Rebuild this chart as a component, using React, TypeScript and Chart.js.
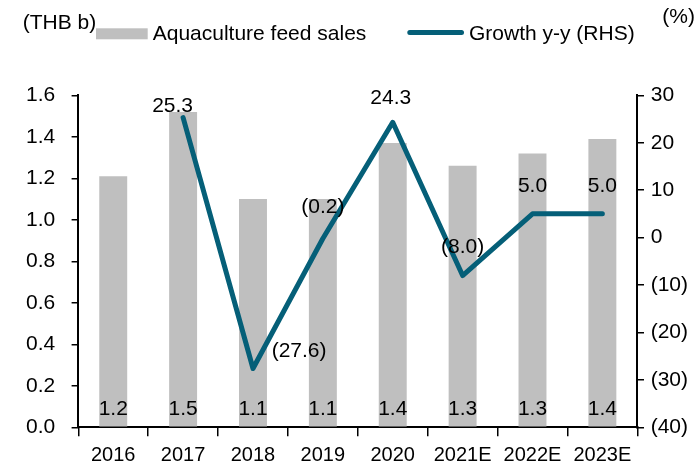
import { useEffect, useRef } from 'react';
import { Chart, registerables } from 'chart.js';

Chart.register(...registerables);

const categories = ['2016', '2017', '2018', '2019', '2020', '2021E', '2022E', '2023E'];
const feedSales = [1.21, 1.52, 1.1, 1.1, 1.37, 1.26, 1.32, 1.39];
const growth: (number | null)[] = [null, 25.3, -27.6, -0.2, 24.3, -8.0, 5.0, 5.0];
const leftAxis = { min: 0, max: 1.6, step: 0.2 };
const rightAxis = { min: -40, max: 30, step: 10 };
const seriesNames = ['Aquaculture feed sales', 'Growth y-y (RHS)'];
const leftUnit = '(THB b)';
const rightUnit = '(%)';

const FONT = '"Liberation Sans", Arial, sans-serif';
const BAR_COLOR = '#BFBFBF';
const LINE_COLOR = '#055F78';

// label placement relative to each growth point (style only)
const growthLabelStyle: ({ dx: number; dy: number; align: CanvasTextAlign } | null)[] = [
  null,
  { dx: -10.5, dy: -6, align: 'center' },
  { dx: 18.7, dy: -11, align: 'left' },
  { dx: 0, dy: -26, align: 'center' },
  { dx: -2, dy: -18, align: 'center' },
  { dx: 0, dy: -23, align: 'center' },
  { dx: 0, dy: -22, align: 'center' },
  { dx: 0, dy: -22, align: 'center' },
];

const fmtGrowth = (v: number) => (v < 0 ? `(${Math.abs(v).toFixed(1)})` : v.toFixed(1));

const labelPlugin = {
  id: 'customLabels',
  afterDatasetsDraw(chart: any) {
    const ctx = chart.ctx as CanvasRenderingContext2D;
    ctx.save();
    ctx.fillStyle = '#000';
    ctx.font = `21px ${FONT}`;
    ctx.textBaseline = 'alphabetic';
    const y0 = chart.scales.y.getPixelForValue(0);
    chart.getDatasetMeta(0).data.forEach((el: any, i: number) => {
      ctx.textAlign = 'center';
      ctx.fillText(feedSales[i].toFixed(1), el.x, y0 - 12.3);
    });
    chart.getDatasetMeta(1).data.forEach((el: any, i: number) => {
      const v = growth[i];
      const st = growthLabelStyle[i];
      if (v == null || !st) return;
      ctx.textAlign = st.align;
      ctx.fillText(fmtGrowth(v), el.x + st.dx, el.y + st.dy);
    });
    ctx.restore();
  },
  afterDraw(chart: any) {
    const ctx = chart.ctx as CanvasRenderingContext2D;
    ctx.save();
    ctx.fillStyle = '#000';
    ctx.font = `21px ${FONT}`;
    ctx.textBaseline = 'alphabetic';
    ctx.textAlign = 'left';
    ctx.fillText(leftUnit, 22.7, 29);
    ctx.fillText(rightUnit, 662.3, 22.5);
    // legend
    ctx.fillStyle = BAR_COLOR;
    ctx.fillRect(96, 28.3, 51.7, 11);
    ctx.fillStyle = '#000';
    ctx.fillText(seriesNames[0], 152.7, 40);
    ctx.strokeStyle = LINE_COLOR;
    ctx.lineWidth = 5;
    ctx.lineCap = 'round';
    ctx.beginPath();
    ctx.moveTo(409.8, 32.5);
    ctx.lineTo(461.5, 32.5);
    ctx.stroke();
    ctx.fillText(seriesNames[1], 469, 40);
    ctx.restore();
  },
};

export default function App() {
  const ref = useRef<HTMLCanvasElement>(null);
  useEffect(() => {
    if (!ref.current) return;
    const chart = new Chart(ref.current, {
      type: 'bar',
      data: {
        labels: categories,
        datasets: [
          {
            type: 'bar',
            label: seriesNames[0],
            data: feedSales,
            backgroundColor: BAR_COLOR,
            borderWidth: 0,
            barPercentage: 0.4,
            categoryPercentage: 1,
            yAxisID: 'y',
            order: 1,
          },
          {
            type: 'line',
            label: seriesNames[1],
            data: growth,
            borderColor: LINE_COLOR,
            backgroundColor: LINE_COLOR,
            borderWidth: 5,
            pointRadius: 0,
            borderCapStyle: 'round',
            borderJoinStyle: 'round',
            tension: 0,
            yAxisID: 'y1',
            order: 0,
          } as any,
        ],
      },
      options: {
        responsive: false,
        animation: false,
        devicePixelRatio: 1,
        layout: { padding: { top: 95.3, bottom: 0, left: 0, right: 0 } },
        plugins: { legend: { display: false }, tooltip: { enabled: false } },
        scales: {
          x: {
            offset: true,
            grid: { offset: true, drawOnChartArea: false, drawTicks: true, tickLength: 9, color: '#000', lineWidth: 1.5 },
            border: { display: true, color: '#000', width: 2 },
            ticks: { font: { size: 20, family: FONT }, color: '#000', padding: 7, maxRotation: 0, autoSkip: false },
            afterFit: (s: any) => { s.height = 42.7; },
          },
          y: {
            position: 'left',
            min: leftAxis.min,
            max: leftAxis.max,
            grid: { drawOnChartArea: false, drawTicks: true, tickLength: 6.7, color: '#000', lineWidth: 1.5 },
            border: { display: true, color: '#000', width: 2 },
            ticks: {
              stepSize: leftAxis.step,
              font: { size: 21, family: FONT },
              color: '#000',
              padding: 16.3,
              autoSkip: false,
              callback: (v: any) => Number(v).toFixed(1),
            },
            afterFit: (s: any) => { s.width = 78.3; },
          },
          y1: {
            position: 'right',
            min: rightAxis.min,
            max: rightAxis.max,
            grid: { drawOnChartArea: false, drawTicks: true, tickLength: 6.7, color: '#000', lineWidth: 1.5 },
            border: { display: true, color: '#000', width: 2 },
            ticks: {
              stepSize: rightAxis.step,
              font: { size: 21, family: FONT },
              color: '#000',
              padding: 6.7,
              autoSkip: false,
              callback: (v: any) => (Number(v) < 0 ? `(${Math.abs(Number(v))})` : `${v}`),
            },
            afterFit: (s: any) => { s.width = 61.7; },
          },
        },
      } as any,
      plugins: [labelPlugin],
    });
    return () => chart.destroy();
  }, []);
  return (
    <canvas
      ref={ref}
      width={699}
      height={470}
      style={{ position: 'absolute', left: 0, top: 0 }}
    />
  );
}
